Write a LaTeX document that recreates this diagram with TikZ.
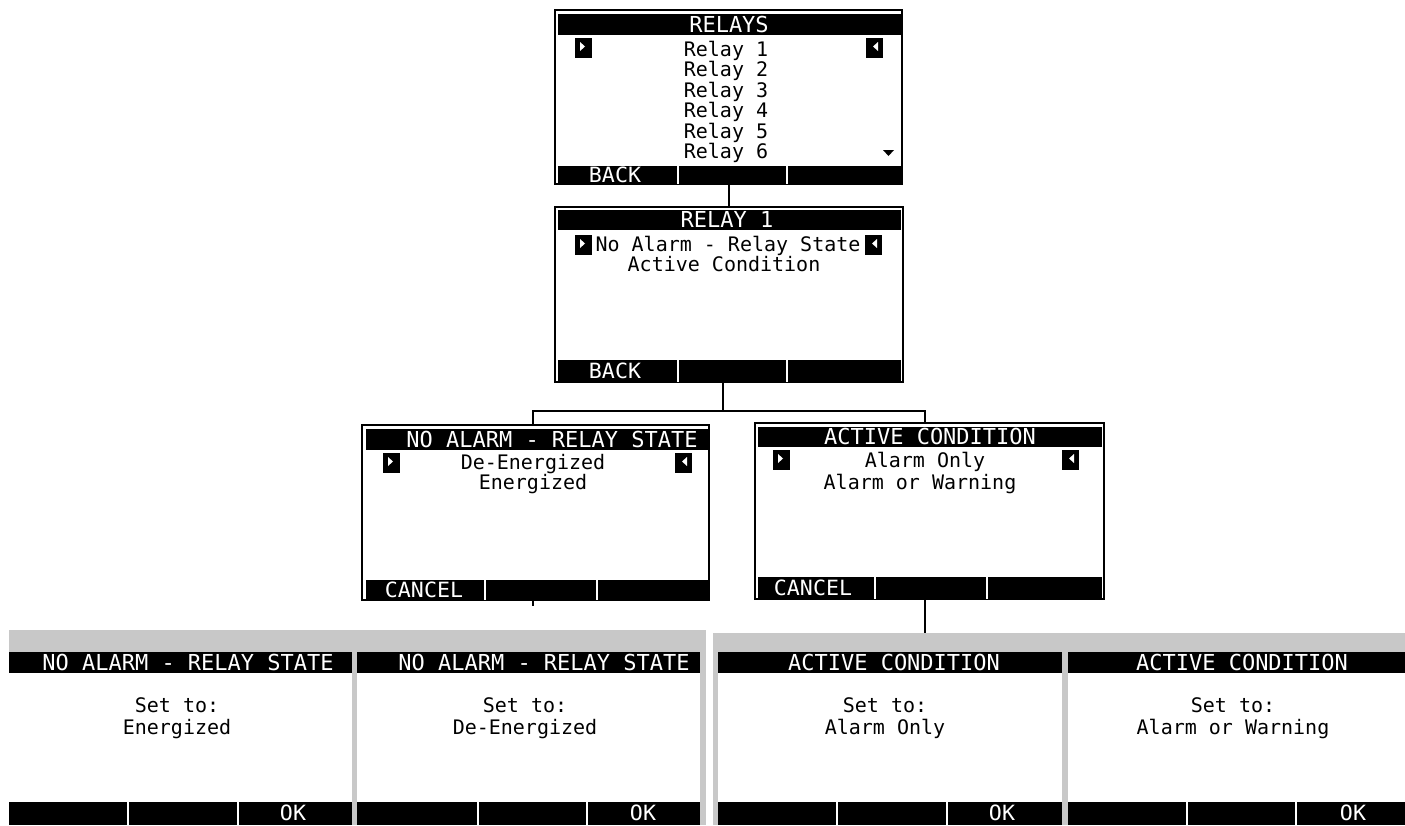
\documentclass[tikz,border=0pt]{standalone}
\usepackage{fontspec}
\newfontfamily\lcdbodyfam{DejaVu Sans Mono}
\newfontfamily\lcdtitlefam{DejaVu Sans Mono}
\newfontfamily\lcdkeyfam[FakeStretch=1.03]{DejaVu Sans Mono}
\newcommand{\lcdbody}{\lcdbodyfam\fontsize{20}{20}\selectfont}
\newcommand{\lcdtitle}{\lcdtitlefam\fontsize{22}{22}\selectfont}
\newcommand{\lcdkey}{\lcdkeyfam\fontsize{21}{21}\selectfont}
\definecolor{panelgray}{HTML}{C8C8C8}
\tikzset{
 screen/.style={draw=black, line width=2.5pt, fill=white, inner sep=0pt},
 conn/.style={draw=black, line width=2pt},
 txt/.style={anchor=base, inner sep=0pt, font=\lcdbody},
 ttl/.style={anchor=base, inner sep=0pt, font=\lcdtitle, text=white},
 key/.style={anchor=base, inner sep=0pt, font=\lcdkey, text=white},
 panel/.style={fill=panelgray, inner sep=0pt, draw=none},
 divider/.style={white, line width=1.5pt},
}
\newcommand{\selright}[2]{\fill[black] (#1,#2) rectangle ++(17,20);
 \fill[white] (#1,#2) ++(5,4) -- ++(0,9) -- ++(5,-4.5) -- cycle;}
\newcommand{\selleft}[2]{\fill[black] (#1,#2) rectangle ++(17,20);
 \fill[white] (#1,#2) ++(12,4) -- ++(0,9) -- ++(-5,-4.5) -- cycle;}
\newcommand{\confirm}[9]{%
 \fill[white] (#1,652) rectangle (#2,825);
 \fill[black] (#1,652) rectangle (#2,673);
 \fill[black] (#1,802) rectangle (#2,825);
 \draw[divider] (#7,802) -- (#7,825);
 \draw[divider] (#8,802) -- (#8,825);
 \node[ttl] (ct#1) at (#3,670) {#4};
 \node[txt] (cs#1) at (#5,712) {Set to:};
 \node[txt] (cv#1) at (#5,734) {#6};
 \node[key] (ck#1) at (#9,820) {OK};
}
\begin{document}
\begin{tikzpicture}[x=1pt,y=-1pt]
\useasboundingbox (0,0) rectangle (1405,825);

% ---------- Screen 1: RELAYS ----------
\node[screen, minimum width=347pt, minimum height=174pt] (s1) at (728.5,97) {};
\fill[black] (558,14) rectangle (901,35);
\fill[black] (558,166) rectangle (901,184);
\draw[divider] (678,166) -- (678,184);
\draw[divider] (787,166) -- (787,184);
\node[ttl] (s1t) at (729,32) {RELAYS};
\selright{575}{38}
\selleft{866}{38}
\node[txt] (r1) at (726,56) {Relay 1};
\node[txt] (r2) at (726,76.5) {Relay 2};
\node[txt] (r3) at (726,97) {Relay 3};
\node[txt] (r4) at (726,117.5) {Relay 4};
\node[txt] (r5) at (726,138) {Relay 5};
\node[txt] (r6) at (726,158.5) {Relay 6};
\fill[black] (883,150) -- (894,150) -- (888.5,156) -- cycle;
\node[key] (s1k) at (615,182) {BACK};

% ---------- Screen 2: RELAY 1 ----------
\node[screen, minimum width=348pt, minimum height=175pt] (s2) at (729,294.5) {};
\fill[black] (558,210) rectangle (901,230);
\fill[black] (558,360) rectangle (901,382);
\draw[divider] (678,360) -- (678,382);
\draw[divider] (787,360) -- (787,382);
\node[ttl] (s2t) at (727,227) {RELAY 1};
\selright{575}{235}
\selleft{865}{235}
\node[txt] (s2a) at (728,251) {No Alarm - Relay State};
\node[txt] (s2b) at (724,271.5) {Active Condition};
\node[key] (s2k) at (615,378) {BACK};

% ---------- Screen 3: NO ALARM - RELAY STATE ----------
\node[screen, minimum width=347pt, minimum height=175pt] (s3) at (535.5,512.5) {};
\fill[black] (366,429) rectangle (708,450);
\fill[black] (366,580) rectangle (708,600);
\draw[divider] (485,580) -- (485,600);
\draw[divider] (597,580) -- (597,600);
\node[ttl] (s3t) at (552,447) {NO ALARM - RELAY STATE};
\selright{383}{453}
\selleft{675}{453}
\node[txt] (s3a) at (533,469) {De-Energized};
\node[txt] (s3b) at (533,489.5) {Energized};
\node[key] (s3k) at (424,597) {CANCEL};

% ---------- Screen 4: ACTIVE CONDITION ----------
\node[screen, minimum width=349pt, minimum height=176pt] (s4) at (929.5,511) {};
\fill[black] (758,427) rectangle (1102,447);
\fill[black] (758,577) rectangle (1102,599);
\draw[divider] (875,577) -- (875,599);
\draw[divider] (987,577) -- (987,599);
\node[ttl] (s4t) at (930,444) {ACTIVE CONDITION};
\selright{773}{450}
\selleft{1062}{450}
\node[txt] (s4a) at (925,467) {Alarm Only};
\node[txt] (s4b) at (920,489) {Alarm or Warning};
\node[key] (s4k) at (813,595) {CANCEL};

% ---------- bottom panels ----------
\node[panel, minimum width=697pt, minimum height=195pt] (pL) at (357.5,727.5) {};
\node[panel, minimum width=692pt, minimum height=192pt] (pR) at (1059,729) {};
\confirm{9}{352}{188}{NO ALARM - RELAY STATE}{177}{Energized}{128}{238}{293}
\confirm{357}{700}{544}{NO ALARM - RELAY STATE}{525}{De-Energized}{478}{587}{643}
\confirm{718}{1062}{894}{ACTIVE CONDITION}{885}{Alarm Only}{837}{947}{1002}
\confirm{1068}{1405}{1242}{ACTIVE CONDITION}{1233}{Alarm or Warning}{1187}{1296}{1353}

% ---------- connectors ----------
\coordinate (j) at (723,411);
\draw[conn] (s1.south) -- (s1.south |- s2.north);
\draw[conn] (s2.south -| j) -- (j);
\draw[conn] (j) -| ([xshift=-2.5pt]s3.north);
\draw[conn] (j) -| ([xshift=-4.5pt]s4.north);
\draw[conn] ([xshift=-2.5pt]s3.south) -- ++(0,5);
\draw[conn] ([xshift=-4.5pt]s4.south) -- ([xshift=-4.5pt]s4.south |- pR.north);
\end{tikzpicture}
\end{document}
